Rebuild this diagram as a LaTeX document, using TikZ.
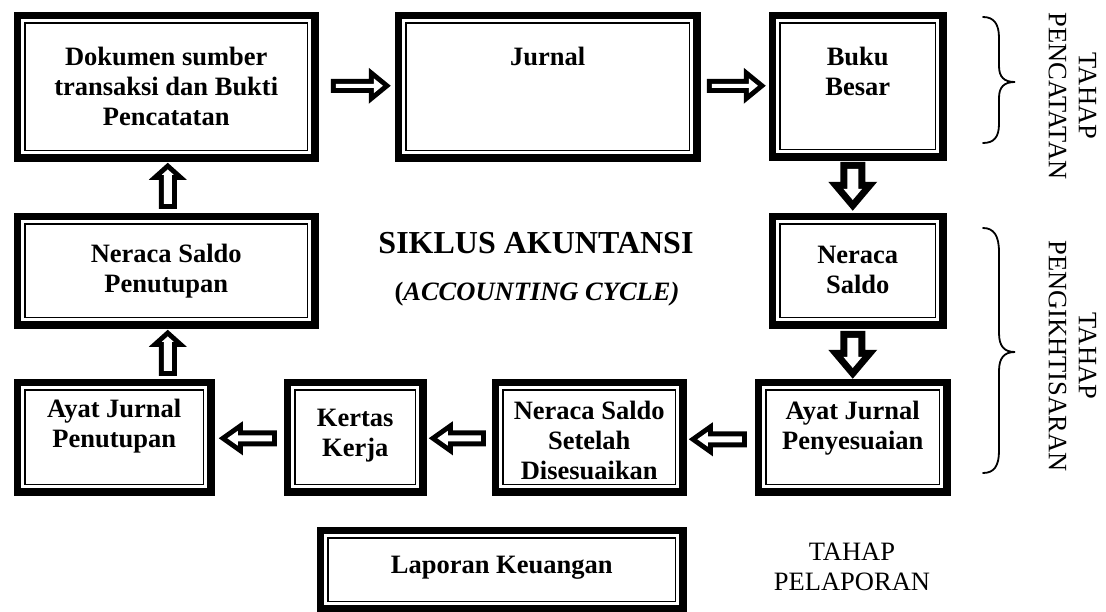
\documentclass[tikz,border=0pt]{standalone}
\usepackage{fontspec}
\setmainfont{Liberation Serif}
\usetikzlibrary{calc}
% hollow block arrow, horizontal: #1 start, #2 tip, #3 shaft half width, #4 head half width, #5 head length, #6 outline width
\newcommand\blkH[6]{%
  \pgfmathsetmacro\bkk{sqrt((#4)^2+(#5)^2)/(#4)}%
  \pgfmathsetmacro\bki{((#5)-(#6)-(#6)*\bkk)*(#4)/(#5)}%
  \fill let \p1=(#1), \p2=(#2), \n1={sign(\x2-\x1)} in
    (\x1,{\y1+#3pt}) -- ({\x2-(\n1)*#5pt},{\y1+#3pt}) -- ({\x2-(\n1)*#5pt},{\y1+#4pt})
    -- (\x2,\y1) -- ({\x2-(\n1)*#5pt},{\y1-#4pt}) -- ({\x2-(\n1)*#5pt},{\y1-#3pt})
    -- (\x1,{\y1-#3pt}) -- cycle;
  \fill[white] let \p1=(#1), \p2=(#2), \n1={sign(\x2-\x1)} in
    ({\x1+(\n1)*#6pt},{\y1+#3pt-#6pt}) -- ({\x2-(\n1)*(#5pt-#6pt)},{\y1+#3pt-#6pt})
    -- ({\x2-(\n1)*(#5pt-#6pt)},{\y1+\bki pt}) -- ({\x2-(\n1)*#6pt*\bkk},\y1)
    -- ({\x2-(\n1)*(#5pt-#6pt)},{\y1-\bki pt}) -- ({\x2-(\n1)*(#5pt-#6pt)},{\y1-#3pt+#6pt})
    -- ({\x1+(\n1)*#6pt},{\y1-#3pt+#6pt}) -- cycle;
}
% hollow block arrow, vertical
\newcommand\blkV[6]{%
  \pgfmathsetmacro\bkk{sqrt((#4)^2+(#5)^2)/(#4)}%
  \pgfmathsetmacro\bki{((#5)-(#6)-(#6)*\bkk)*(#4)/(#5)}%
  \fill let \p1=(#1), \p2=(#2), \n1={sign(\y2-\y1)} in
    ({\x1+#3pt},\y1) -- ({\x1+#3pt},{\y2-(\n1)*#5pt}) -- ({\x1+#4pt},{\y2-(\n1)*#5pt})
    -- (\x1,\y2) -- ({\x1-#4pt},{\y2-(\n1)*#5pt}) -- ({\x1-#3pt},{\y2-(\n1)*#5pt})
    -- ({\x1-#3pt},\y1) -- cycle;
  \fill[white] let \p1=(#1), \p2=(#2), \n1={sign(\y2-\y1)} in
    ({\x1+#3pt-#6pt},{\y1+(\n1)*#6pt}) -- ({\x1+#3pt-#6pt},{\y2-(\n1)*(#5pt-#6pt)})
    -- ({\x1+\bki pt},{\y2-(\n1)*(#5pt-#6pt)}) -- (\x1,{\y2-(\n1)*#6pt*\bkk})
    -- ({\x1-\bki pt},{\y2-(\n1)*(#5pt-#6pt)}) -- ({\x1-#3pt+#6pt},{\y2-(\n1)*(#5pt-#6pt)})
    -- ({\x1-#3pt+#6pt},{\y1+(\n1)*#6pt}) -- cycle;
}
\begin{document}
\begin{tikzpicture}[x=1pt,y=1pt,
  box/.style={draw, line width=7.5pt, outer sep=3.75pt, inner sep=0pt, anchor=north west,
    path picture={\draw[line width=1.3pt]
      ([shift={(7.6pt,-7.6pt)}]path picture bounding box.north west) rectangle
      ([shift={(-7.6pt,7.6pt)}]path picture bounding box.south east);}},
  lbl/.style={font=\bfseries\fontsize{26.5}{30}\selectfont, align=center, inner sep=0pt, anchor=north},
  stage/.style={font=\fontsize{26.5}{30}\selectfont, align=center, inner sep=0pt},
  bracestyle/.style={line width=1.8pt, line cap=round}
]
\fill[white] (0,0) rectangle (1106,-611);
\useasboundingbox (0,0) rectangle (1106,-611);

% boxes
\node[box, minimum width=297.5pt, minimum height=142.5pt] (dok)  at (13.75,-11.75) {};
\node[box, minimum width=298.5pt, minimum height=142.5pt] (jur)  at (394.75,-11.75) {};
\node[box, minimum width=170.5pt, minimum height=141.5pt] (buku) at (768.75,-11.75) {};
\node[box, minimum width=170.5pt, minimum height=108.5pt] (ns)   at (768.75,-212.75) {};
\node[box, minimum width=297.5pt, minimum height=108.5pt] (nsp)  at (13.75,-212.75) {};
\node[box, minimum width=193.5pt, minimum height=109.5pt] (ajp)  at (13.75,-378.75) {};
\node[box, minimum width=135.5pt, minimum height=109.5pt] (kk)   at (283.75,-378.75) {};
\node[box, minimum width=187.5pt, minimum height=109.5pt] (nss)  at (491.75,-378.75) {};
\node[box, minimum width=188.5pt, minimum height=109.5pt] (ajs)  at (754.75,-378.75) {};
\node[box, minimum width=362.5pt, minimum height=78.5pt]  (lap)  at (316.75,-526.75) {};

% box texts
\node[lbl] (dokt)  at ($(dok.north)+(0,-35)$)  {Dokumen sumber\\transaksi dan Bukti\\Pencatatan};
\node[lbl] (jurt)  at ($(jur.north)+(0,-35)$)  {Jurnal};
\node[lbl] (bukut) at ($(buku.north)+(0,-35)$) {Buku\\Besar};
\node[lbl] (nst)   at ($(ns.north)+(0,-33)$)   {Neraca\\Saldo};
\node[lbl] (nspt)  at ($(nsp.north)+(0,-31)$)  {Neraca Saldo\\Penutupan};
\node[lbl] (ajpt)  at ($(ajp.north)+(0,-20)$)  {Ayat Jurnal\\Penutupan};
\node[lbl] (kkt)   at ($(kk.north)+(0,-30)$)   {Kertas\\Kerja};
\node[lbl] (nsst)  at ($(nss.north)+(0,-22)$)  {Neraca Saldo\\Setelah\\Disesuaikan};
\node[lbl] (ajst)  at ($(ajs.north)+(0,-22)$)  {Ayat Jurnal\\Penyesuaian};
\node[lbl] (lapt)  at ($(lap.north)+(0,-29)$)  {Laporan Keuangan};

% title
\node[font=\bfseries\fontsize{32}{36}\selectfont, inner sep=0pt, anchor=base] (title) at (536,-253) {SIKLUS AKUNTANSI};
\node[font=\bfseries\fontsize{26.5}{30}\selectfont, inner sep=0pt, anchor=base] (subtitle) at (537,-300.5) {(\textit{ACCOUNTING CYCLE)}};

% arrows
\blkH{$(dok.east)+(12pt,1pt)$}{$(jur.west)+(-4pt,1pt)$}{7}{18}{22}{5}
\blkH{$(jur.east)+(6pt,1pt)$}{$(buku.west)+(-3pt,1pt)$}{7}{18}{22}{5}
\blkV{$(buku.south)+(-5pt,-1pt)$}{$(ns.north)+(-5pt,2pt)$}{12.5}{24.5}{29}{7}
\blkV{$(ns.south)+(-5pt,-2pt)$}{$(ajs.north)+(-5pt,0pt)$}{12.5}{24.5}{29}{7}
\blkH{$(ajs.west)+(-8pt,-2pt)$}{$(nss.east)+(2pt,-2pt)$}{8}{17}{24}{5}
\blkH{$(nss.west)+(-6pt,-1pt)$}{$(kk.east)+(2pt,-1pt)$}{8}{17}{24}{5}
\blkH{$(kk.west)+(-7pt,-1pt)$}{$(ajp.east)+(4pt,-1pt)$}{8}{17}{24}{5}
\blkV{$(ajp.north -| nsp.south)+(1.5pt,3pt)$}{$(nsp.south)+(1.5pt,-1pt)$}{9}{19}{17}{5}
\blkV{$(nsp.north)+(1.5pt,4pt)$}{$(dok.south)+(1.5pt,-1pt)$}{9}{19}{17}{5}

% braces
\draw[bracestyle] (983,-17) .. controls (994,-17) and (999,-24) .. (999,-38)
  -- (999,-66) .. controls (999,-77) and (1004,-82) .. (1015,-82)
  .. controls (1004,-82) and (999,-87) .. (999,-98)
  -- (999,-124) .. controls (999,-137) and (994,-143) .. (983,-143);
\draw[bracestyle] (983,-228) .. controls (994,-228) and (999,-236) .. (999,-252)
  -- (999,-333) .. controls (999,-346) and (1004,-352) .. (1015,-352)
  .. controls (1004,-352) and (999,-358) .. (999,-371)
  -- (999,-451) .. controls (999,-466) and (994,-473) .. (983,-473);

% stage labels
\node[stage, rotate=-90] (st1) at (1072.5,-96) {TAHAP\\PENCATATAN};
\node[stage, rotate=-90] (st2) at (1072.5,-356) {TAHAP\\PENGIKHTISARAN};
\node[stage, anchor=north] (st3) at (852,-543) {TAHAP\\PELAPORAN};
\end{tikzpicture}
\end{document}
